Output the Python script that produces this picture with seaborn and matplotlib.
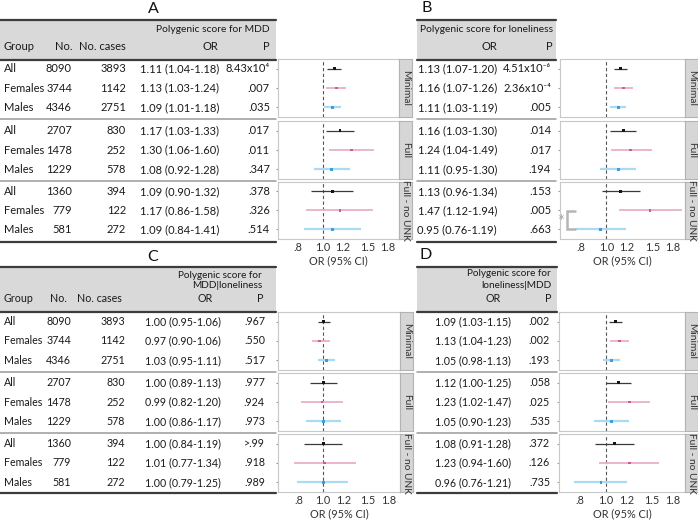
import seaborn as sns
import matplotlib.pyplot as plt
import matplotlib.transforms as mtransforms
from matplotlib.patches import Rectangle
import pandas as pd

# ---------------------------
# Data
# ---------------------------
groups = ["All", "Females", "Males"]
models = ["Minimal", "Full", "Full - no UNK"]
n_total = [8090, 3744, 4346, 2707, 1478, 1229, 1360, 779, 581]
n_cases = [3893, 1142, 2751, 830, 252, 578, 394, 122, 272]

# A: polygenic score for MDD
or_a = [1.11, 1.13, 1.09, 1.17, 1.30, 1.08, 1.09, 1.17, 1.09]
lo_a = [1.04, 1.03, 1.01, 1.03, 1.06, 0.92, 0.90, 0.86, 0.84]
hi_a = [1.18, 1.24, 1.18, 1.33, 1.60, 1.28, 1.32, 1.58, 1.41]
p_a = ["8.43x10⁴", ".007", ".035", ".017", ".011", ".347", ".378", ".326", ".514"]

# B: polygenic score for loneliness
or_b = [1.13, 1.16, 1.11, 1.16, 1.24, 1.11, 1.13, 1.47, 0.95]
lo_b = [1.07, 1.07, 1.03, 1.03, 1.04, 0.95, 0.96, 1.12, 0.76]
hi_b = [1.20, 1.26, 1.19, 1.30, 1.49, 1.30, 1.34, 1.94, 1.19]
p_b = ["4.51x10⁻⁶", "2.36x10⁻⁴", ".005", ".014", ".017", ".194", ".153", ".005", ".663"]

# C: MDD | loneliness
or_c = [1.00, 0.97, 1.03, 1.00, 0.99, 1.00, 1.00, 1.01, 1.00]
lo_c = [0.95, 0.90, 0.95, 0.89, 0.82, 0.86, 0.84, 0.77, 0.79]
hi_c = [1.06, 1.06, 1.11, 1.13, 1.20, 1.17, 1.19, 1.34, 1.25]
p_c = [".967", ".550", ".517", ".977", ".924", ".973", ">.99", ".918", ".989"]

# D: loneliness | MDD
or_d = [1.09, 1.13, 1.05, 1.12, 1.23, 1.05, 1.08, 1.23, 0.96]
lo_d = [1.03, 1.04, 0.98, 1.00, 1.02, 0.90, 0.91, 0.94, 0.76]
hi_d = [1.15, 1.23, 1.13, 1.25, 1.47, 1.23, 1.28, 1.60, 1.21]
p_d = [".002", ".002", ".193", ".058", ".025", ".535", ".372", ".126", ".735"]

x_ticks = [0.8, 1.0, 1.2, 1.5, 1.8]
x_ticklabels = [".8", "1.0", "1.2", "1.5", "1.8"]

point_colors = {"All": "#141414", "Females": "#cf5b96", "Males": "#3a9fdc"}
line_colors = {"All": "#3a3a3a", "Females": "#ebb0c9", "Males": "#acdaf5"}
line_widths = {"All": 0.9, "Females": 1.3, "Males": 1.6}

# ---------------------------
# Styling
# ---------------------------
sns.set_theme(style="white")
plt.rcParams["font.family"] = ["Lato", "DejaVu Sans"]

W, H = 698, 520
fig = plt.figure(figsize=(W / 100, H / 100), dpi=100)

bg = fig.add_axes([0, 0, 1, 1])
bg.set_xlim(0, W)
bg.set_ylim(H, 0)
bg.axis("off")


def rect(x0, y0, x1, y1):
    return [x0 / W, 1 - y1 / H, (x1 - x0) / W, (y1 - y0) / H]


def make_df(ors, los, his):
    return pd.DataFrame({
        "Model": [m for m in models for _ in groups],
        "Group": groups * 3,
        "Row": [0, 1, 2] * 3,
        "OR": ors, "lo": los, "hi": his,
    })


def draw_forest(df, x0, x1, panel_ys, bracket=False):
    for k, (model, (y0, y1)) in enumerate(zip(models, panel_ys)):
        ax = fig.add_axes(rect(x0, y0, x1, y1))
        sub = df[df["Model"] == model]
        for _, r in sub.iterrows():
            ax.hlines(r["Row"], r["lo"], r["hi"], color=line_colors[r["Group"]],
                      lw=line_widths[r["Group"]], zorder=2)
        sns.scatterplot(data=sub, x="OR", y="Row", hue="Group", palette=point_colors,
                        marker="s", s=4, linewidth=0, legend=False, ax=ax, zorder=3)
        ax.axvline(1.0, color="#555555", lw=0.8, ls=(0, (3, 2.2)), zorder=1)
        ax.set_xscale("log")
        ax.set_xlim(0.665, 2.0)
        ax.set_ylim(2.5, -0.5)
        ax.set_yticks([0, 1, 2])
        ax.set_yticklabels([])
        ax.set_ylabel("")
        ax.minorticks_off()
        ax.tick_params(axis="y", length=1.5, width=0.8, color="#999999", left=True)
        for s in ax.spines.values():
            s.set_color("#c8c8c8")
            s.set_linewidth(0.8)
        if k == 2:
            ax.set_xticks(x_ticks)
            ax.set_xticklabels(x_ticklabels)
            ax.tick_params(axis="x", length=0, pad=2.5, labelsize=7.8, labelcolor="#333333")
            ax.set_xlabel("OR (95% CI)", fontsize=7.8, color="#333333", labelpad=1)
        else:
            ax.set_xticks([])
            ax.set_xlabel("")
        if bracket and k == 2:
            tr = mtransforms.blended_transform_factory(ax.transAxes, ax.transData)
            ax.plot([0.12, 0.058, 0.058, 0.12], [1.05, 1.05, 1.95, 1.95], color="#b5b5b5",
                    lw=1.8, transform=tr, clip_on=False, solid_joinstyle="miter")
            ax.text(0.008, 1.62, "*", color="#a8a8a8", fontsize=12, ha="center", va="center",
                    transform=tr, clip_on=False, zorder=5)
        # facet strip
        sax = fig.add_axes(rect(x1, y0, x1 + 13, y1))
        sax.set_facecolor("#d6d6d6")
        sax.set_xticks([])
        sax.set_yticks([])
        for s in sax.spines.values():
            s.set_color("#b3b3b3")
            s.set_linewidth(0.8)
        sax.text(0.5, 0.5, model, rotation=270, ha="center", va="center",
                 fontsize=7.3, color="#333333", transform=sax.transAxes)


def row_ys(panel_ys):
    ys = []
    for y0, y1 in panel_ys:
        h = (y1 - y0) / 3
        ys += [y0 + h * (i + 0.5) for i in range(3)]
    return ys


def table_frame(x0, x1, top, bottom_head, seps, bottom):
    bg.add_patch(Rectangle((x0, top), x1 - x0, bottom_head - top, color="#d9d9d9", lw=0))
    bg.plot([x0, x1], [top, top], color="#3c3c3c", lw=1.6)
    bg.plot([x0, x1], [bottom_head, bottom_head], color="#3c3c3c", lw=1.6)
    for s in seps:
        bg.plot([x0, x1], [s, s], color="#9a9a9a", lw=1.1)
    bg.plot([x0, x1], [bottom, bottom], color="#3c3c3c", lw=1.6)


def txt(x, y, s, ha="left", fs=8, color="#1a1a1a"):
    bg.text(x, y, s, ha=ha, va="center", fontsize=fs, color=color)


def fmt_or(o, l, h):
    return f"{o:.2f} ({l:.2f}-{h:.2f})"


top_panels = [(59, 117), (121, 179), (182, 239)]
bot_panels = [(312, 370), (373, 431), (434, 492)]
top_rows = row_ys(top_panels)
bot_rows = row_ys(bot_panels)

# ---------------------------
# Panel A
# ---------------------------
txt(153, 9, "A", ha="center", fs=11.5, color="#111111")
table_frame(0, 276, 19.5, 60, [119, 180.5], 241.5)
txt(270, 30, "Polygenic score for MDD", ha="right", fs=7.4)
txt(4, 47, "Group")
txt(72, 47, "No.", ha="right")
txt(126, 47, "No. cases", ha="right")
txt(218, 47, "OR", ha="right")
txt(270, 47, "P", ha="right")
for i, y in enumerate(top_rows):
    txt(4, y, groups[i % 3])
    txt(72, y, str(n_total[i]), ha="right")
    txt(126, y, str(n_cases[i]), ha="right")
    txt(219, y, fmt_or(or_a[i], lo_a[i], hi_a[i]), ha="right")
    txt(270, y, p_a[i], ha="right")
draw_forest(make_df(or_a, lo_a, hi_a), 278, 399, top_panels)

# ---------------------------
# Panel B
# ---------------------------
txt(427, 8, "B", ha="center", fs=11.5, color="#111111")
table_frame(417, 556, 19.5, 60, [119, 180.5], 241.5)
txt(553, 30, "Polygenic score for loneliness", ha="right", fs=7.4)
txt(497, 47, "OR", ha="right")
txt(553, 47, "P", ha="right")
for i, y in enumerate(top_rows):
    txt(497, y, fmt_or(or_b[i], lo_b[i], hi_b[i]), ha="right")
    txt(551, y, p_b[i], ha="right")
draw_forest(make_df(or_b, lo_b, hi_b), 560, 685, top_panels, bracket=True)

# ---------------------------
# Panel C
# ---------------------------
fs2 = 7.7
txt(153, 257, "C", ha="center", fs=11.5, color="#111111")
table_frame(0, 276, 267, 312, [371.5, 432.5], 493)
txt(262, 275, "Polygenic score for", ha="right", fs=7.2)
txt(262, 286, "MDD|loneliness", ha="right", fs=7.2)
txt(4, 299, "Group", fs=fs2)
txt(67, 299, "No.", ha="right", fs=fs2)
txt(122, 299, "No. cases", ha="right", fs=fs2)
txt(213, 299, "OR", ha="right", fs=fs2)
txt(263, 299, "P", ha="right", fs=fs2)
for i, y in enumerate(bot_rows):
    txt(4, y, groups[i % 3], fs=fs2)
    txt(71, y, str(n_total[i]), ha="right", fs=fs2)
    txt(125, y, str(n_cases[i]), ha="right", fs=fs2)
    txt(145, y, fmt_or(or_c[i], lo_c[i], hi_c[i]), fs=fs2)
    txt(265, y, p_c[i], ha="right", fs=fs2)
draw_forest(make_df(or_c, lo_c, hi_c), 278, 400, bot_panels)

# ---------------------------
# Panel D
# ---------------------------
txt(426, 255, "D", ha="center", fs=11.5, color="#111111")
table_frame(417, 557, 266.5, 312, [371.5, 432.5], 493)
txt(551, 274, "Polygenic score for", ha="right", fs=7.2)
txt(551, 285, "loneliness|MDD", ha="right", fs=7.2)
txt(501, 298, "OR", ha="right", fs=fs2)
txt(551, 298, "P", ha="right", fs=fs2)
for i, y in enumerate(bot_rows):
    txt(435, y, fmt_or(or_d[i], lo_d[i], hi_d[i]), fs=fs2)
    txt(550, y, p_d[i], ha="right", fs=fs2)
draw_forest(make_df(or_d, lo_d, hi_d), 559, 685, bot_panels)

fig.savefig("out.png", dpi=100)
plt.close(fig)
